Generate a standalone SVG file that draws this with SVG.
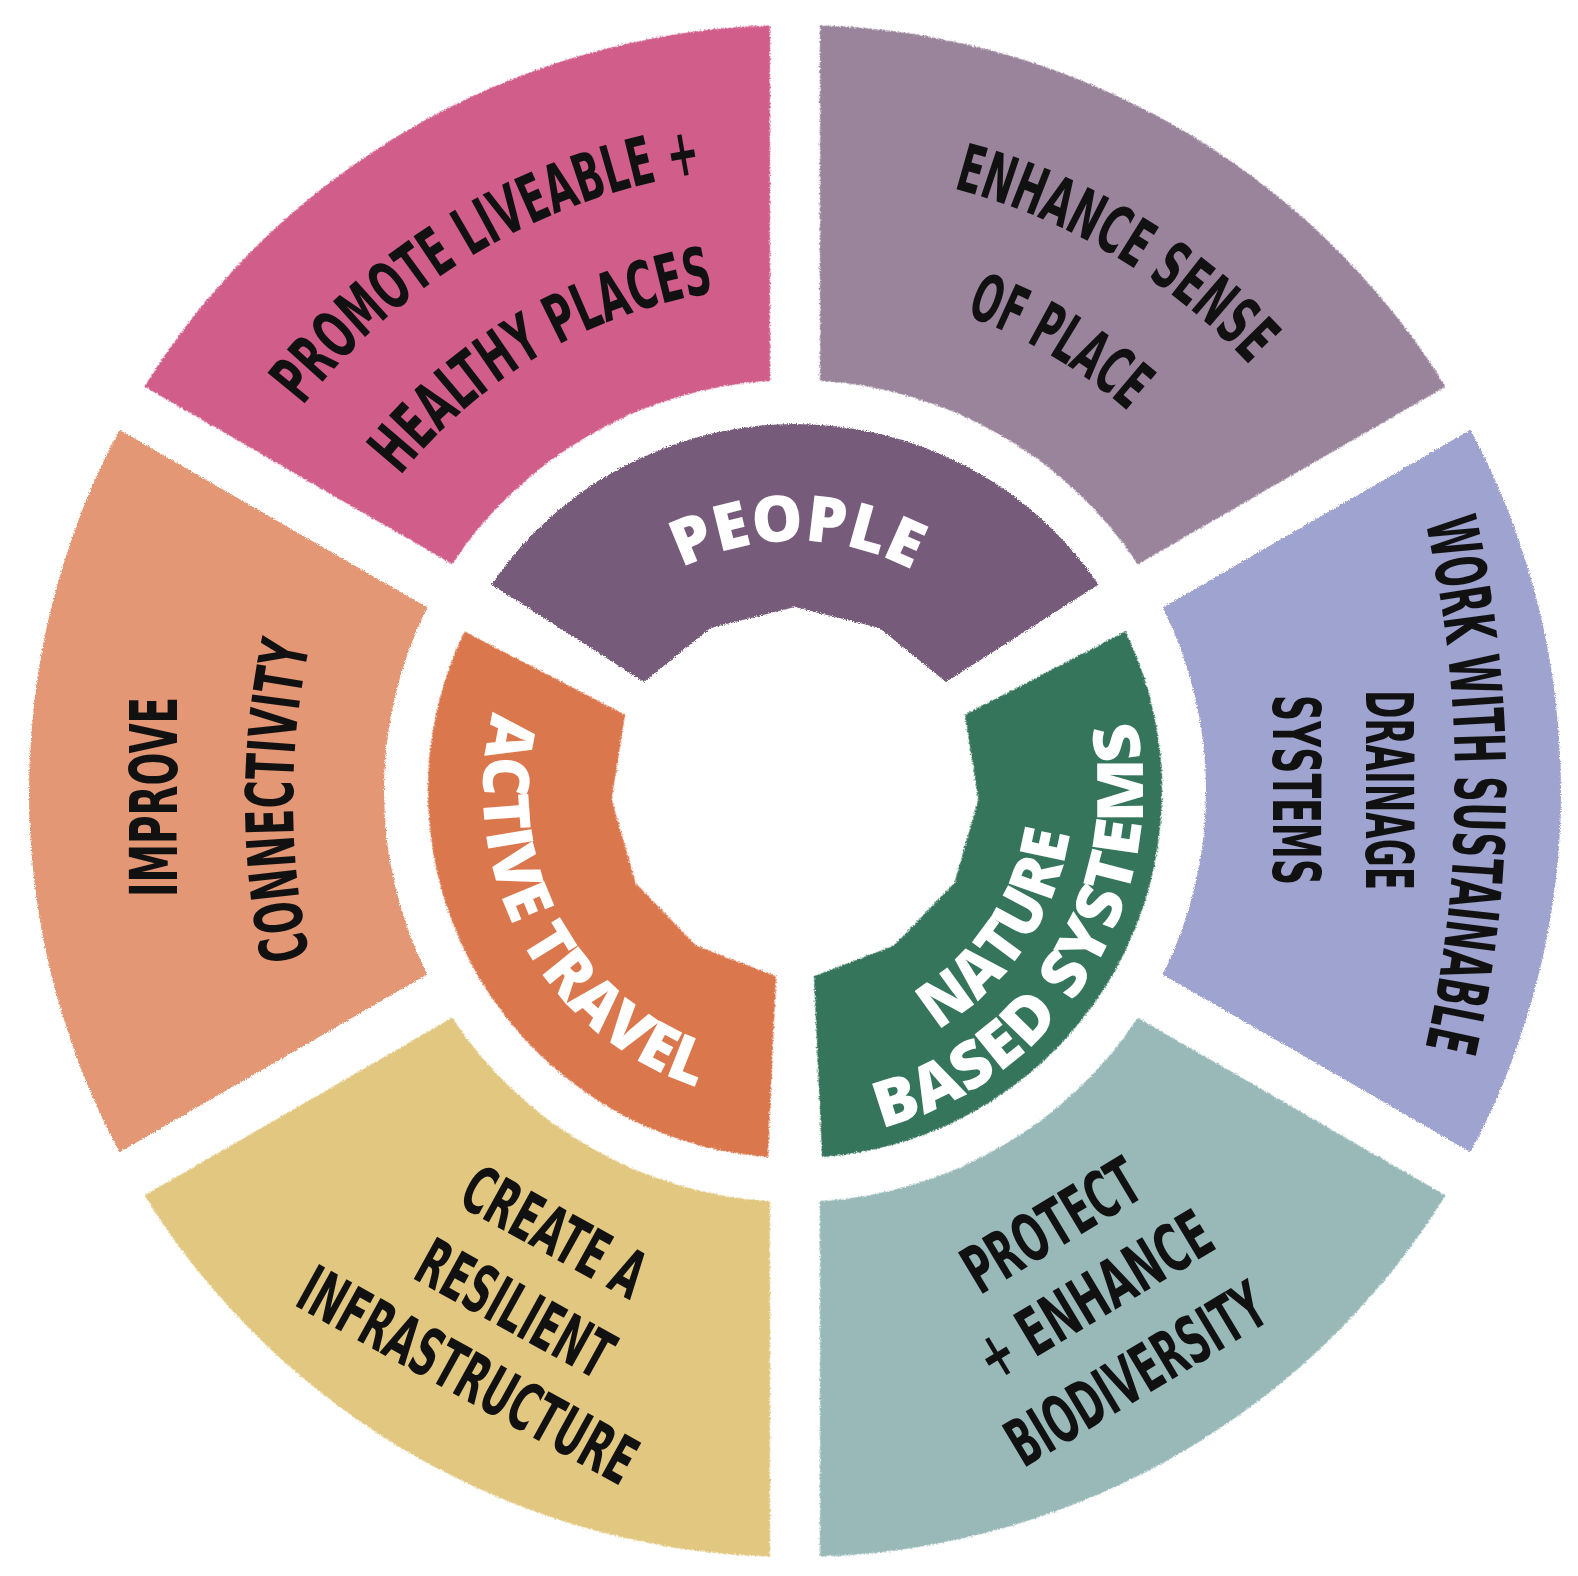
<svg xmlns="http://www.w3.org/2000/svg" width="1578" height="1576" viewBox="0 0 1578 1576">
  <style>
    .lbl { font-family: "Liberation Sans Narrow", "DejaVu Sans Condensed", "Liberation Sans", sans-serif; font-weight: 700; font-size: 66px; fill: #111111; }
    .inner { font-family: "Open Sans", "Lato", "Liberation Sans", sans-serif; font-weight: 800; font-size: 64px; fill: #ffffff; }
    .seg { filter: url(#rough); }
  </style>
  <defs>
    <filter id="rough" x="-5%" y="-5%" width="110%" height="110%">
      <feTurbulence type="fractalNoise" baseFrequency="0.8" numOctaves="2" seed="4" result="n"/>
      <feDisplacementMap in="SourceGraphic" in2="n" scale="4" xChannelSelector="R" yChannelSelector="G"/>
    </filter>
    <path id="outerSeg" d="M433.8,115.5 A766,766 0 0 1 1156.2,115.5 L978.5,423.2 A411,411 0 0 0 611.5,423.2 Z"/>
    <path id="innerSeg" d="M491.5,584.6 A367,367 0 0 1 1098.5,584.6 L946,682 L879.5,628 L795,607 L710.5,628 L644,682 Z"/>
    <path id="tp-pink1" d="M206.8,579.8 A625,625 0 0 1 900.8,175.0"/>
    <path id="tp-pink2" d="M319.6,620.8 A505,505 0 0 1 880.1,293.2"/>
    <path id="tp-mauve1" d="M695.4,176.0 A623,623 0 0 1 1383.4,586.1"/>
    <path id="tp-mauve2" d="M711.6,292.9 A505,505 0 0 1 1271.0,622.4"/>
    <path id="tp-lav1" d="M1384.1,382.8 A1176,1176 0 0 1 1384.1,1187.2"/>
    <path id="tp-orange2" d="M337.5,1053.4 A738,738 0 0 1 337.5,548.6"/>
    <path id="tp-people" d="M579.6,664.1 A250,250 0 0 1 1012.6,667.9"/>
    <path id="tp-active" d="M529,628 A312,312 0 0 0 786.8,1102.9"/>
    <path id="tp-based" d="M782.9,1138.8 A348,348 0 0 0 1102.3,627.6"/>
    <path id="tp-nature" d="M775.6,1068.3 A278,278 0 0 0 1044.9,669.1"/>
  </defs>

  <rect width="1578" height="1576" fill="#ffffff"/>

  <g id="connectors"/>

  <g id="node-promote">
    <use class="seg" href="#outerSeg" transform="rotate(-30 795 791)" fill="#D15D8B"/>
    <text class="lbl" text-anchor="middle"><textPath href="#tp-pink1" startOffset="50%" textLength="474" lengthAdjust="spacingAndGlyphs">PROMOTE LIVEABLE +</textPath></text>
    <text class="lbl" text-anchor="middle"><textPath href="#tp-pink2" startOffset="50%" textLength="372" lengthAdjust="spacingAndGlyphs">HEALTHY PLACES</textPath></text>
  </g>

  <g id="node-sense-of-place">
    <use class="seg" href="#outerSeg" transform="rotate(30 795 791)" fill="#9A849C"/>
    <text class="lbl" text-anchor="middle"><textPath href="#tp-mauve1" startOffset="50%" textLength="350" lengthAdjust="spacingAndGlyphs">ENHANCE SENSE</textPath></text>
    <text class="lbl" text-anchor="middle"><textPath href="#tp-mauve2" startOffset="50%" textLength="190" lengthAdjust="spacingAndGlyphs">OF PLACE</textPath></text>
  </g>

  <g id="node-drainage">
    <use class="seg" href="#outerSeg" transform="rotate(90 795 791)" fill="#9EA3CF"/>
    <text class="lbl" style="font-size:70px" text-anchor="middle"><textPath href="#tp-lav1" startOffset="50%" textLength="530" lengthAdjust="spacingAndGlyphs">WORK WITH SUSTAINABLE</textPath></text>
    <text class="lbl" transform="rotate(90)" x="790" y="-1366" text-anchor="middle" textLength="200" lengthAdjust="spacingAndGlyphs">DRAINAGE</text>
    <text class="lbl" transform="rotate(90)" x="790" y="-1273" text-anchor="middle" textLength="190" lengthAdjust="spacingAndGlyphs">SYSTEMS</text>
  </g>

  <g id="node-biodiversity">
    <use class="seg" href="#outerSeg" transform="rotate(150 795 791)" fill="#99B9B9"/>
    <g transform="rotate(-31)">
      <text class="lbl" x="270" y="1615" text-anchor="middle" textLength="195" lengthAdjust="spacingAndGlyphs">PROTECT</text>
      <text class="lbl" x="271" y="1697" text-anchor="middle" textLength="262" lengthAdjust="spacingAndGlyphs">+ ENHANCE</text>
      <text class="lbl" x="266" y="1786" text-anchor="middle" textLength="290" lengthAdjust="spacingAndGlyphs">BIODIVERSITY</text>
    </g>
  </g>

  <g id="node-infrastructure">
    <use class="seg" href="#outerSeg" transform="rotate(-150 795 791)" fill="#E1C77F"/>
    <g transform="rotate(29)">
      <text class="lbl" x="1082" y="832" text-anchor="middle" textLength="199" lengthAdjust="spacingAndGlyphs">CREATE A</text>
      <text class="lbl" x="1085" y="918" text-anchor="middle" textLength="213" lengthAdjust="spacingAndGlyphs">RESILIENT</text>
      <text class="lbl" x="1076" y="999" text-anchor="middle" textLength="375" lengthAdjust="spacingAndGlyphs">INFRASTRUCTURE</text>
    </g>
  </g>

  <g id="node-connectivity">
    <use class="seg" href="#outerSeg" transform="rotate(-90 795 791)" fill="#E49774"/>
    <text class="lbl" transform="rotate(-90)" x="-797" y="177" text-anchor="middle" textLength="200" lengthAdjust="spacingAndGlyphs">IMPROVE</text>
    <text class="lbl" text-anchor="middle"><textPath href="#tp-orange2" startOffset="50%" textLength="315" lengthAdjust="spacingAndGlyphs">CONNECTIVITY</textPath></text>
  </g>

  <g id="node-people">
    <use class="seg" href="#innerSeg" fill="#765B7A"/>
    <text class="inner" text-anchor="middle"><textPath href="#tp-people" startOffset="50%" textLength="240" lengthAdjust="spacingAndGlyphs">PEOPLE</textPath></text>
  </g>

  <g id="node-active-travel">
    <use class="seg" href="#innerSeg" transform="rotate(-120 795 791)" fill="#DB774E"/>
    <text class="inner" text-anchor="middle"><textPath href="#tp-active" startOffset="50%" textLength="470" lengthAdjust="spacingAndGlyphs">ACTIVE TRAVEL</textPath></text>
  </g>

  <g id="node-nature">
    <use class="seg" href="#innerSeg" transform="rotate(120 795 791)" fill="#35745C"/>
    <text class="inner" text-anchor="middle"><textPath href="#tp-nature" startOffset="50%" textLength="245" lengthAdjust="spacingAndGlyphs">NATURE</textPath></text>
    <text class="inner" text-anchor="middle"><textPath href="#tp-based" startOffset="50%" textLength="530" lengthAdjust="spacingAndGlyphs">BASED SYSTEMS</textPath></text>
  </g>
</svg>
